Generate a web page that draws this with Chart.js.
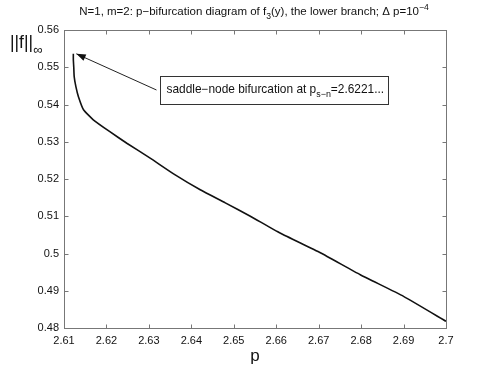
<!DOCTYPE html>
<html>
<head>
<meta charset="utf-8">
<script src="https://cdn.jsdelivr.net/npm/chart.js@4.4.1/dist/chart.umd.min.js"></script>
<style>
  body { margin: 0; background: #fff; }
</style>
</head>
<body>
<canvas id="grafico" width="493" height="370"></canvas>
<script>
// dados (ramo inferior)
const pValues = [2.6122, 2.6122, 2.6123, 2.6124, 2.6128, 2.6134, 2.6146, 2.6169, 2.6208, 2.6248,
                 2.6303, 2.6362, 2.6421, 2.6480, 2.6539, 2.6609, 2.6704, 2.6798, 2.6900, 2.7000];
const normValues = [0.5536, 0.5520, 0.5500, 0.5475, 0.5448, 0.5421, 0.5386, 0.5359, 0.5327, 0.5296,
                    0.5256, 0.5211, 0.5171, 0.5136, 0.5100, 0.5055, 0.5002, 0.4943, 0.4885, 0.4818];
const xTicks = [2.61, 2.62, 2.63, 2.64, 2.65, 2.66, 2.67, 2.68, 2.69, 2.7];
const yTicks = [0.48, 0.49, 0.5, 0.51, 0.52, 0.53, 0.54, 0.55, 0.56];
const saddleNode = {p: 2.6122, y: 0.5536};

const fonte = '"Liberation Sans", Arial, Helvetica, sans-serif';
const corEixo = '#777';

// texto com índices (sub/sup)
function textoRico(ctx, partes, x, y, size, align) {
  const small = size * 0.75;
  let total = 0;
  partes.forEach(([t, k]) => {
    ctx.font = (k === 'n' ? size : small) + 'px ' + fonte;
    total += ctx.measureText(t).width;
  });
  let cx = align === 'center' ? x - total / 2 : x;
  partes.forEach(([t, k]) => {
    ctx.font = (k === 'n' ? size : small) + 'px ' + fonte;
    let dy = k === 'sub' ? size * 0.35 : k === 'sup' ? -size * 0.45 : 0;
    ctx.fillText(t, cx, y + dy);
    cx += ctx.measureText(t).width;
  });
}

const extras = {
  id: 'extras',
  afterDraw(chart) {
    const {ctx, chartArea: a, scales: {x, y}} = chart;
    ctx.save();
    ctx.strokeStyle = corEixo;
    ctx.lineWidth = 1;
    const L = Math.round(a.left) + 0.5, R = Math.round(a.right) + 0.5;
    const T = Math.round(a.top) + 0.5, B = Math.round(a.bottom) + 0.5;
    ctx.strokeRect(L, T, R - L, B - T);
    // marcas para dentro
    ctx.beginPath();
    xTicks.forEach(v => {
      const px = Math.round(x.getPixelForValue(v)) + 0.5;
      ctx.moveTo(px, B); ctx.lineTo(px, B - 4);
      ctx.moveTo(px, T); ctx.lineTo(px, T + 4);
    });
    yTicks.forEach(v => {
      const py = Math.round(y.getPixelForValue(v)) + 0.5;
      ctx.moveTo(L, py); ctx.lineTo(L + 4, py);
      ctx.moveTo(R, py); ctx.lineTo(R - 4, py);
    });
    ctx.stroke();

    ctx.fillStyle = '#111';
    ctx.textBaseline = 'alphabetic';
    // título
    textoRico(ctx, [['N=1, m=2: p\u2212bifurcation diagram of f', 'n'], ['3', 'sub'],
      ['(y), the lower branch; \u0394 p=10', 'n'], ['\u22124', 'sup']], 254, 15, 11.5, 'center');
    // rótulo do eixo y
    textoRico(ctx, [['||f||', 'n'], ['\u221e', 'sub']], 10, 48, 17.5, 'left');

    // anotação
    const bx = 160.5, by = 76.5, bw = 228, bh = 28;
    ctx.fillStyle = '#fff';
    ctx.fillRect(bx, by, bw, bh);
    ctx.strokeStyle = '#333';
    ctx.strokeRect(bx, by, bw, bh);
    ctx.fillStyle = '#111';
    textoRico(ctx, [['saddle\u2212node bifurcation at p', 'n'], ['s\u2212n', 'sub'], ['=2.6221...', 'n']],
      bx + 6, by + 16, 11.9, 'left');

    // seta
    const tx = x.getPixelForValue(saddleNode.p) + 3, ty = y.getPixelForValue(saddleNode.y);
    const sx = bx - 4, sy = 90;
    const ang = Math.atan2(ty - sy, tx - sx);
    ctx.strokeStyle = '#222';
    ctx.beginPath();
    ctx.moveTo(sx, sy); ctx.lineTo(tx, ty);
    ctx.stroke();
    ctx.beginPath();
    ctx.moveTo(tx, ty);
    ctx.lineTo(tx - 10 * Math.cos(ang - 0.35), ty - 10 * Math.sin(ang - 0.35));
    ctx.lineTo(tx - 10 * Math.cos(ang + 0.35), ty - 10 * Math.sin(ang + 0.35));
    ctx.closePath();
    ctx.fillStyle = '#111';
    ctx.fill();
    ctx.restore();
  }
};

const ctx = document.getElementById('grafico');
new Chart(ctx, {
  type: 'scatter',
  data: {
    datasets: [{
      label: 'lower branch',
      data: pValues.map((p, i) => ({x: p, y: normValues[i]})),
      showLine: true,
      borderColor: '#111',
      borderWidth: 1.6,
      pointRadius: 0,
      tension: 0.15
    }]
  },
  options: {
    responsive: false,
    animation: false,
    layout: {padding: {top: 30, right: 47, left: 0, bottom: 0}},
    plugins: {legend: {display: false}, tooltip: {enabled: false}},
    scales: {
      x: {
        type: 'linear',
        min: 2.61, max: 2.7,
        afterBuildTicks: s => { s.ticks = xTicks.map(v => ({value: v})); },
        afterFit: s => { s.height = 42; },
        grid: {display: false, drawTicks: false},
        border: {display: false},
        ticks: {
          padding: 6,
          color: '#111',
          font: {family: fonte, size: 11},
          maxRotation: 0,
          callback: v => String(+v.toFixed(2))
        },
        title: {display: true, text: 'p', color: '#111', font: {family: fonte, size: 17}, padding: {top: 0, bottom: 3}}
      },
      y: {
        type: 'linear',
        min: 0.48, max: 0.56,
        afterBuildTicks: s => { s.ticks = yTicks.map(v => ({value: v})); },
        afterFit: s => { s.width = 64; },
        grid: {display: false, drawTicks: false},
        border: {display: false},
        ticks: {
          padding: 5,
          color: '#111',
          font: {family: fonte, size: 11},
          callback: v => String(+v.toFixed(2))
        }
      }
    }
  },
  plugins: [extras]
});
</script>
</body>
</html>
